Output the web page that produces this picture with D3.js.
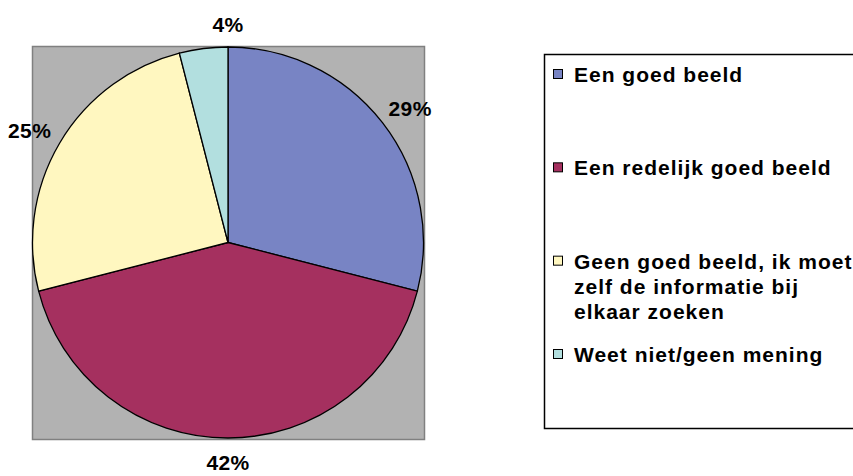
<!DOCTYPE html>
<html>
<head>
<meta charset="utf-8">
<script src="https://cdn.jsdelivr.net/npm/d3@7"></script>
<style>
    body { margin: 0; background: #fff; }
    text { font-family: "Liberation Sans", Arial, sans-serif; font-weight: bold; fill: #000; }
</style>
</head>
<body>
<script>
    // slices, clockwise from 12 o'clock
    let categories = ["Een goed beeld", "Een redelijk goed beeld",
        "Geen goed beeld, ik moet zelf de informatie bij elkaar zoeken", "Weet niet/geen mening"];
    let values = [29, 42, 25, 4];
    let legendLines = [
        ["Een goed beeld"],
        ["Een redelijk goed beeld"],
        ["Geen goed beeld, ik moet", "zelf de informatie bij", "elkaar zoeken"],
        ["Weet niet/geen mening"]
    ];
    let colors = ["#7884c4", "#a5305f", "#fff7c0", "#b2dfdf"];

    let width = 853,
        height = 476,
        cx = 228,
        cy = 242.5,
        radius = 195.5,
        labelGap = 14,
        labelHalfW = 21,
        labelHalfH = 10;

    let svg = d3.select("body").append("svg")
        .attr("width", width)
        .attr("height", height);

    // gray plot area
    svg.append("rect")
        .attr("x", 32.5).attr("y", 46.5)
        .attr("width", 392).attr("height", 393)
        .attr("fill", "#b2b2b2")
        .attr("stroke", "#808080")
        .attr("stroke-width", 1.5);

    let pie = d3.pie().sort(null).value(function(d) { return d; });
    let arcs = pie(values);
    let arc = d3.arc().innerRadius(0).outerRadius(radius);

    let g = svg.append("g")
        .attr("transform", "translate(" + cx + "," + cy + ")");

    g.selectAll(".slice")
        .data(arcs)
        .enter().append("path")
        .attr("class", "slice")
        .attr("d", arc)
        .attr("fill", function(d, i) { return colors[i]; })
        .attr("stroke", "#000")
        .attr("stroke-width", 1.3);

    // outside-end labels: label box pushed out along the bisector,
    // ones close to the vertical axis get centred on it like Excel does
    g.selectAll(".label")
        .data(arcs)
        .enter().append("text")
        .attr("class", "label")
        .attr("transform", function(d) {
            let a = (d.startAngle + d.endAngle) / 2,
                s = Math.sin(a), c = Math.cos(a),
                x = s * (radius + labelGap + labelHalfW),
                y = -c * (radius + labelGap + labelHalfH);
            if (Math.abs(s) < 0.15) x = 0;
            return "translate(" + x + "," + y + ")";
        })
        .attr("dy", "0.36em")
        .attr("text-anchor", "middle")
        .style("font-size", "21px")
        .style("letter-spacing", "0.4px")
        .text(function(d) { return d.data + "%"; });

    // legend
    svg.append("rect")
        .attr("x", 544.5).attr("y", 54.5)
        .attr("width", 330).attr("height", 374)
        .attr("fill", "#fff")
        .attr("stroke", "#000")
        .attr("stroke-width", 1.5);

    let legendY = d3.scalePoint()
        .domain(categories)
        .range([82, 362]);

    let item = svg.selectAll(".legend")
        .data(categories)
        .enter().append("g")
        .attr("class", "legend")
        .attr("transform", function(d) { return "translate(553," + legendY(d) + ")"; });

    item.append("rect")
        .attr("x", 0.5).attr("y", -12.5)
        .attr("width", 9).attr("height", 9)
        .attr("fill", function(d, i) { return colors[i]; })
        .attr("stroke", "#000")
        .attr("stroke-width", 1);

    item.append("text")
        .attr("x", 21)
        .style("font-size", "21px")
        .style("letter-spacing", "1px")
        .selectAll("tspan")
        .data(function(d, i) { return legendLines[i]; })
        .enter().append("tspan")
        .attr("x", 21)
        .attr("dy", function(d, i) { return i ? 25 : 0; })
        .text(function(d) { return d; });
</script>
</body>
</html>
